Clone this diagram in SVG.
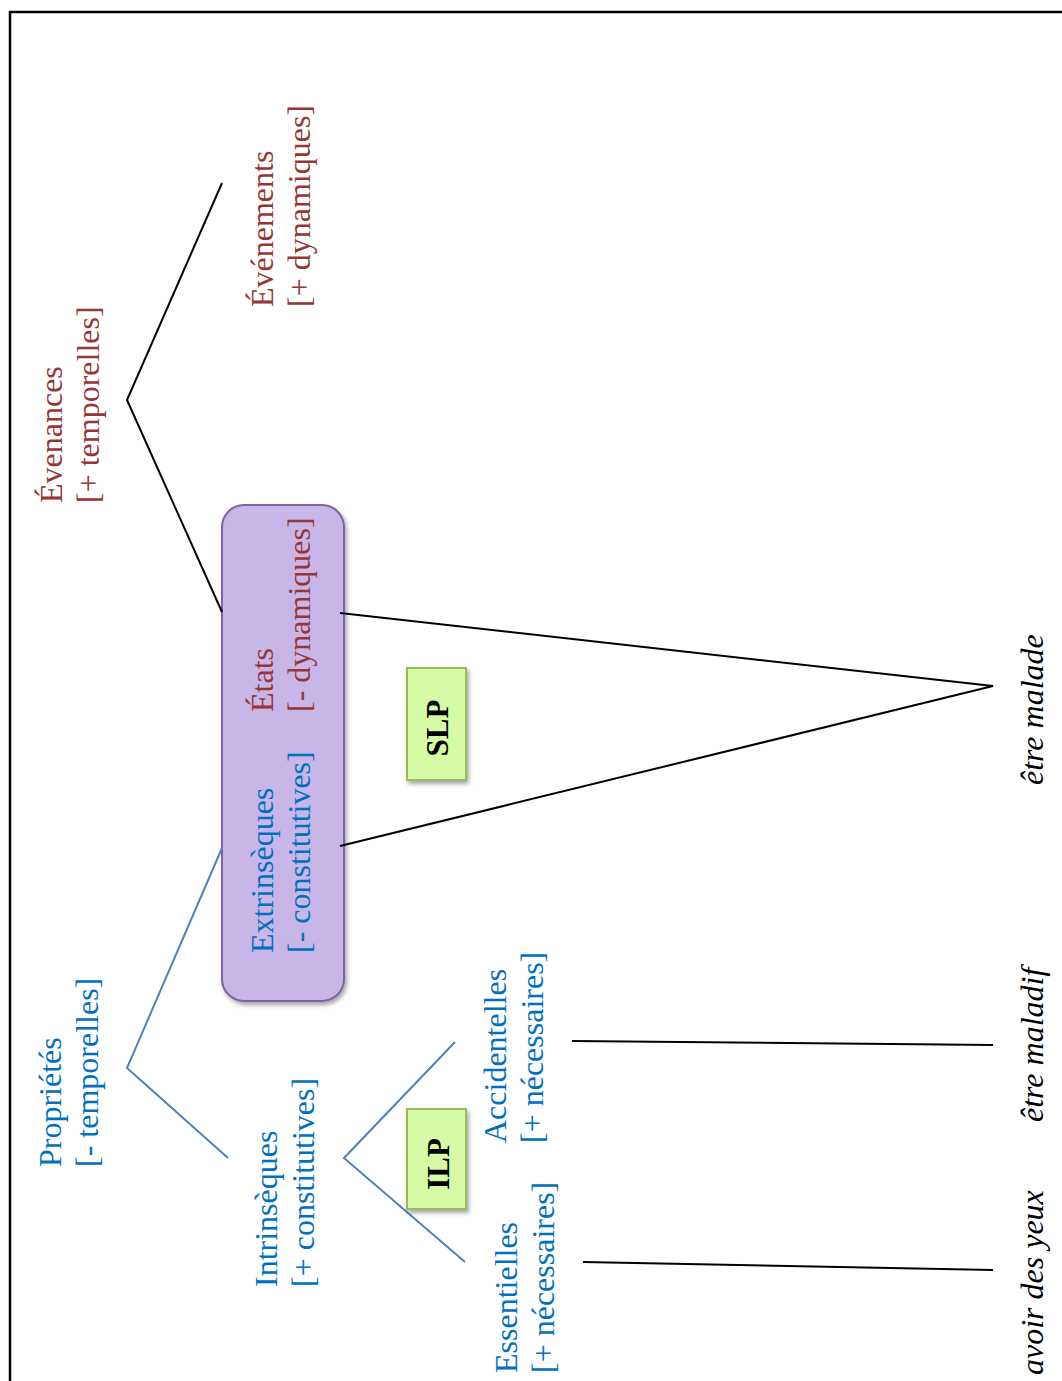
<svg xmlns="http://www.w3.org/2000/svg" width="1062" height="1381" viewBox="0 0 1062 1381">
<style>
  text { font-family: "Liberation Serif", "Times New Roman", serif; font-size: 32px; }
  .red { fill: #953735; }
  .blue { fill: #0070C0; }
  .ex { fill: #000; font-style: italic; }
  .tag { fill: #000; font-weight: bold; font-size: 31px; text-anchor: middle; }
  .lk { stroke: #000; stroke-width: 2; fill: none; }
  .lb { stroke: #4F81BD; stroke-width: 2; fill: none; }
  .purple { fill: #C8B6E8; stroke: #8064A2; stroke-width: 2; }
  .green { fill: #D7FAA6; stroke: #9BBB59; stroke-width: 2; }
</style>
<defs>
  <filter id="sh" x="-20%" y="-20%" width="140%" height="140%">
    <feDropShadow dx="2" dy="3" stdDeviation="2" flood-color="#000" flood-opacity="0.35"/>
  </filter>
</defs>
<rect width="1062" height="1381" fill="#fff"/>
<path d="M10,1381 V12 H1062" stroke="#000" stroke-width="2.5" fill="none"/>

<g id="box-states">
  <rect class="purple" x="222" y="505" width="122" height="496" rx="22" filter="url(#sh)"/>
</g>

<g id="connectors">
  <polyline class="lk" points="222,183 127,400 222,612"/>
  <polyline class="lk" points="340,613 993,686 340,846"/>
  <polyline class="lb" points="222,848 127,1068 228,1158"/>
  <polyline class="lb" points="455,1042 344,1158 465,1262"/>
  <line class="lk" x1="572" y1="1041" x2="993" y2="1045"/>
  <line class="lk" x1="583" y1="1262" x2="993" y2="1270"/>
</g>

<g id="evenances">
  <text class="red" transform="translate(62,503) rotate(-90)">Évenances</text>
  <text class="red" transform="translate(99,503) rotate(-90)">[+ temporelles]</text>
</g>
<g id="evenements">
  <text class="red" transform="translate(273,307) rotate(-90)">Événements</text>
  <text class="red" transform="translate(310,307) rotate(-90)">[+ dynamiques]</text>
</g>
<g id="etats">
  <text class="red" transform="translate(273,712) rotate(-90)">États</text>
  <text class="red" transform="translate(310,712) rotate(-90)">[- dynamiques]</text>
</g>
<g id="extrinseques">
  <text class="blue" transform="translate(273,953) rotate(-90)">Extrinsèques</text>
  <text class="blue" transform="translate(310,953) rotate(-90)">[- constitutives]</text>
</g>
<g id="proprietes">
  <text class="blue" transform="translate(61,1167) rotate(-90)">Propriétés</text>
  <text class="blue" transform="translate(98,1167) rotate(-90)">[- temporelles]</text>
</g>
<g id="intrinseques">
  <text class="blue" transform="translate(277,1287) rotate(-90)">Intrinsèques</text>
  <text class="blue" transform="translate(314,1287) rotate(-90)">[+ constitutives]</text>
</g>
<g id="accidentelles">
  <text class="blue" transform="translate(506,1143) rotate(-90)">Accidentelles</text>
  <text class="blue" transform="translate(543,1143) rotate(-90)">[+ nécessaires]</text>
</g>
<g id="essentielles">
  <text class="blue" transform="translate(517,1373) rotate(-90)">Essentielles</text>
  <text class="blue" transform="translate(554,1373) rotate(-90)">[+ nécessaires]</text>
</g>

<g id="slp">
  <rect class="green" x="407" y="668" width="59" height="112" filter="url(#sh)"/>
  <text class="tag" transform="translate(448,728) rotate(-90)">SLP</text>
</g>
<g id="ilp">
  <rect class="green" x="407" y="1109" width="59" height="100" filter="url(#sh)"/>
  <text class="tag" transform="translate(449,1164) rotate(-90)">ILP</text>
</g>

<g id="ex-malade">
  <text class="ex" transform="translate(1043,785) rotate(-90)">être malade</text>
</g>
<g id="ex-maladif">
  <text class="ex" transform="translate(1043,1122) rotate(-90)">être maladif</text>
</g>
<g id="ex-yeux">
  <text class="ex" transform="translate(1043,1375) rotate(-90)">avoir des yeux</text>
</g>
</svg>
